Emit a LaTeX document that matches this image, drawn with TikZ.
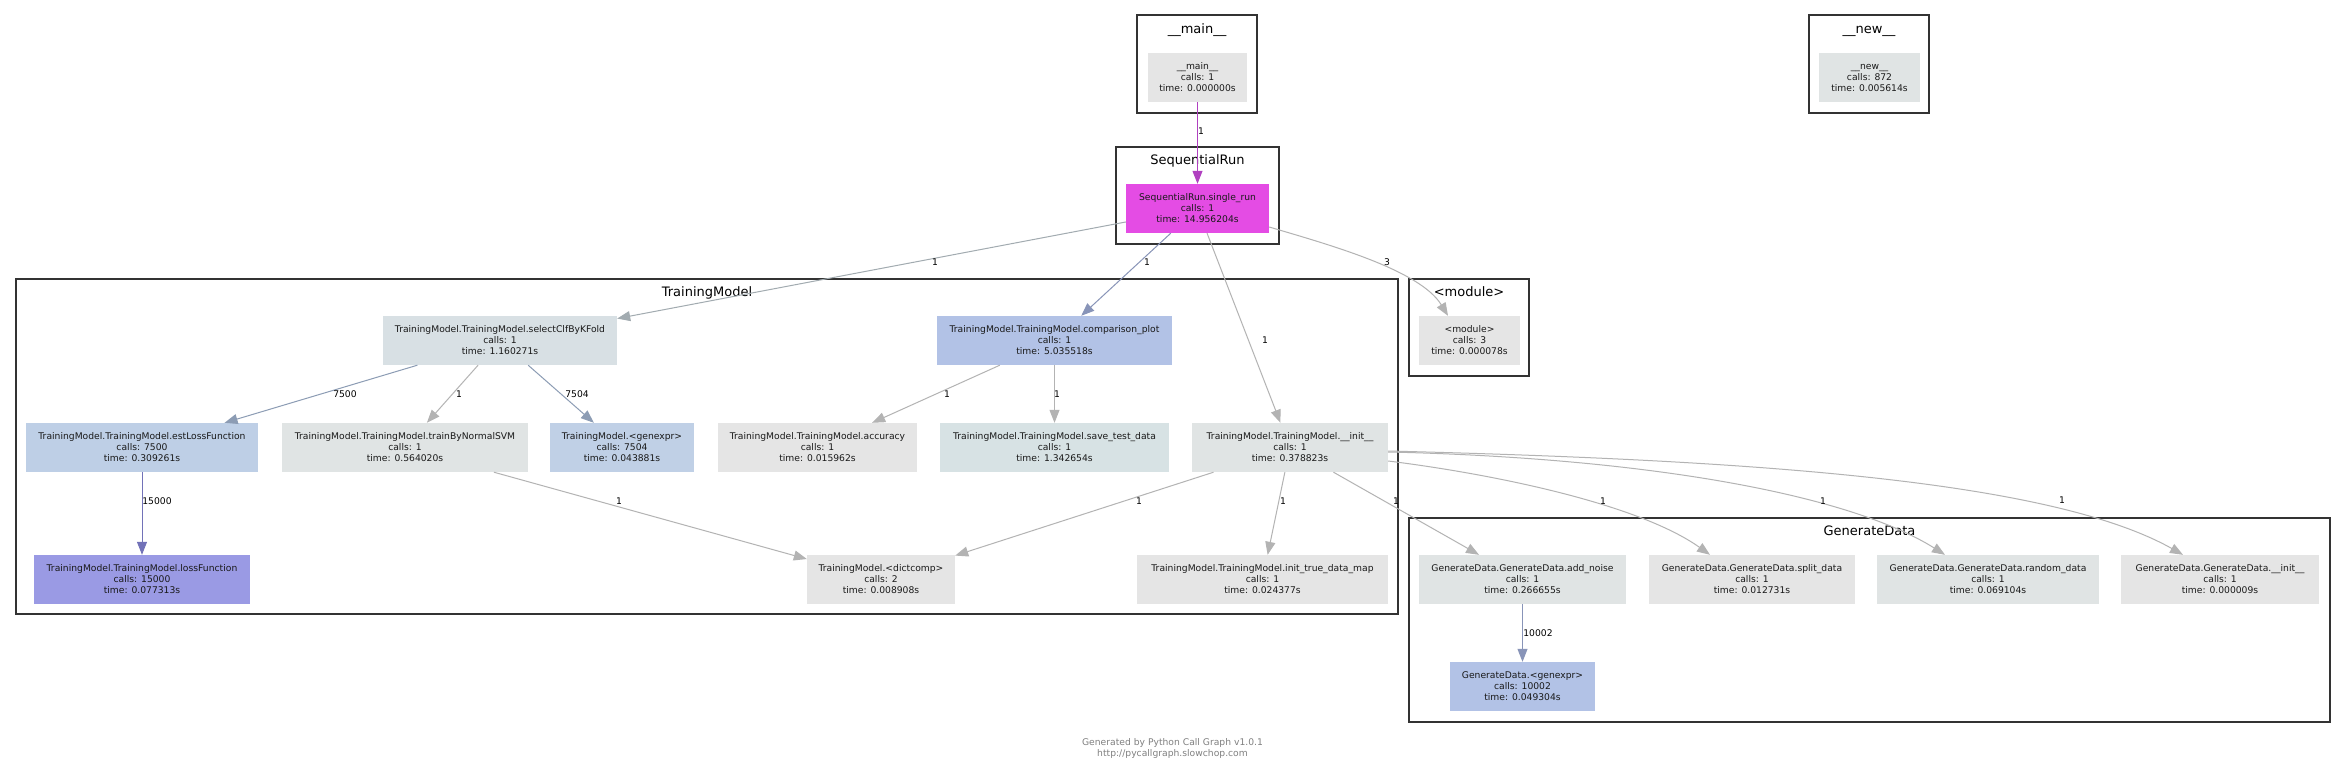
\documentclass[tikz,border=0pt]{standalone}
\usepackage{fontspec}
\setmainfont{DejaVu Sans}
\usetikzlibrary{arrows.meta,calc}
\definecolor{cgray}{HTML}{B3B3B3}
\definecolor{cteal}{HTML}{A2ABB0}
\definecolor{csteel}{HTML}{8C9CB4}
\definecolor{cblue}{HTML}{8894B8}
\definecolor{cviolet}{HTML}{7272B8}
\definecolor{cpurple}{HTML}{B040C0}
\definecolor{fgray}{HTML}{E5E5E5}
\definecolor{fgrayc}{HTML}{E0E4E4}
\definecolor{fmag}{HTML}{E44CE4}
\definecolor{fsel}{HTML}{D8E0E4}
\definecolor{fcomp}{HTML}{B2C2E6}
\definecolor{fest}{HTML}{BECFE6}
\definecolor{fgen}{HTML}{C0D0E6}
\definecolor{fsave}{HTML}{D7E2E4}
\definecolor{floss}{HTML}{9A9AE4}
\definecolor{clusc}{HTML}{333333}
\newcommand\fnode[7]{\node[fn, fill=#6, minimum width={#4-#2}, minimum height={#5-#3}] (#1) at ({(#2+#4)/2},{(#3+#5)/2}) {#7};}
\begin{document}
\begin{tikzpicture}[x=1pt,y=-1pt,
  fn/.style={rectangle, inner sep=0pt, align=center, font=\fontsize{9.2}{11}\selectfont, text=black!90},
  clus/.style={draw=clusc, line width=2pt},
  ttl/.style={anchor=base, font=\fontsize{13}{15}\selectfont, inner sep=0pt},
  lbl/.style={font=\fontsize{9.2}{11}\selectfont, inner sep=0pt},
  conn/.style={line width=1pt, draw=#1, -{Triangle[length=13pt,width=10pt]}}
]
\useasboundingbox (0,0) rectangle (2345,771);
\fill[white] (0,0) rectangle (2345,771);
% clusters
\draw[clus] (1137,15) rectangle (1257,113);
\node[ttl] (tmain) at (1197,33) {\_\_main\_\_};
\draw[clus] (1809,15) rectangle (1929,113);
\node[ttl] (tnew) at (1869,33) {\_\_new\_\_};
\draw[clus] (1116,147) rectangle (1279,244);
\node[ttl] (tsr) at (1197.5,164.5) {SequentialRun};
\draw[clus] (16,279) rectangle (1398,614);
\node[ttl] (ttm) at (707,296.5) {TrainingModel};
\draw[clus] (1409,279) rectangle (1529,376);
\node[ttl] (tmod) at (1469,296.5) {<module>};
\draw[clus] (1409,518) rectangle (2330,722);
\node[ttl] (tgd) at (1869.5,535.5) {GenerateData};
% nodes
\fnode{main}{1148}{53}{1247}{102}{fgray}{\_\_main\_\_\\calls: 1\\time: 0.000000s}
\fnode{new}{1819}{53}{1920}{102}{fgrayc}{\_\_new\_\_\\calls: 872\\time: 0.005614s}
\fnode{SR}{1126}{184}{1269}{233}{fmag}{SequentialRun.single\_run\\calls: 1\\time: 14.956204s}
\fnode{module}{1419}{316}{1520}{365}{fgray}{<module>\\calls: 3\\time: 0.000078s}
\fnode{select}{383}{316}{617}{365}{fsel}{TrainingModel.TrainingModel.selectClfByKFold\\calls: 1\\time: 1.160271s}
\fnode{comp}{937}{316}{1172}{365}{fcomp}{TrainingModel.TrainingModel.comparison\_plot\\calls: 1\\time: 5.035518s}
\fnode{est}{26}{423}{258}{472}{fest}{TrainingModel.TrainingModel.estLossFunction\\calls: 7500\\time: 0.309261s}
\fnode{train}{282}{423}{528}{472}{fgrayc}{TrainingModel.TrainingModel.trainByNormalSVM\\calls: 1\\time: 0.564020s}
\fnode{gentm}{550}{423}{694}{472}{fgen}{TrainingModel.<genexpr>\\calls: 7504\\time: 0.043881s}
\fnode{acc}{718}{423}{917}{472}{fgray}{TrainingModel.TrainingModel.accuracy\\calls: 1\\time: 0.015962s}
\fnode{save}{940}{423}{1169}{472}{fsave}{TrainingModel.TrainingModel.save\_test\_data\\calls: 1\\time: 1.342654s}
\fnode{initTM}{1192}{423}{1388}{472}{fgrayc}{TrainingModel.TrainingModel.\_\_init\_\_\\calls: 1\\time: 0.378823s}
\fnode{loss}{34}{555}{250}{604}{floss}{TrainingModel.TrainingModel.lossFunction\\calls: 15000\\time: 0.077313s}
\fnode{dict}{807}{555}{955}{604}{fgray}{TrainingModel.<dictcomp>\\calls: 2\\time: 0.008908s}
\fnode{itdm}{1137}{555}{1388}{604}{fgray}{TrainingModel.TrainingModel.init\_true\_data\_map\\calls: 1\\time: 0.024377s}
\fnode{noise}{1419}{555}{1626}{604}{fgrayc}{GenerateData.GenerateData.add\_noise\\calls: 1\\time: 0.266655s}
\fnode{split}{1649}{555}{1855}{604}{fgray}{GenerateData.GenerateData.split\_data\\calls: 1\\time: 0.012731s}
\fnode{random}{1877}{555}{2099}{604}{fgrayc}{GenerateData.GenerateData.random\_data\\calls: 1\\time: 0.069104s}
\fnode{initGD}{2121}{555}{2319}{604}{fgray}{GenerateData.GenerateData.\_\_init\_\_\\calls: 1\\time: 0.000009s}
\fnode{gengd}{1450}{662}{1595}{711}{fcomp}{GenerateData.<genexpr>\\calls: 10002\\time: 0.049304s}
% edges
\draw[conn=cpurple] (main) -- (SR);
\draw[conn=cteal] (SR) -- (select);
\draw[conn=cblue] (SR) -- (comp);
\draw[conn=cgray] (SR) -- (initTM);
\draw[conn=cgray] ($(SR.east)+(0,18.5)$) .. controls (1330,245) and (1420,270) .. ($(module.north)+(-21.5,0)$);
\draw[conn=csteel] (select) -- (est);
\draw[conn=cgray] (select) -- (train);
\draw[conn=csteel] (select) -- (gentm);
\draw[conn=cviolet] (est) -- (loss);
\draw[conn=cgray] (train) -- (dict);
\draw[conn=cgray] (comp) -- (acc);
\draw[conn=cgray] (comp) -- (save);
\draw[conn=cgray] (initTM) -- (dict);
\draw[conn=cgray] (initTM) -- (itdm);
\draw[conn=cgray] (initTM) -- (noise);
\draw[conn=cgray] ($(initTM.east)+(0,13.5)$) .. controls (1500,475) and (1640,505) .. ($(split.north)+(-42,0)$);
\draw[conn=cgray] ($(initTM.east)+(0,4.5)$) .. controls (1650,458) and (1850,495) .. ($(random.north)+(-43,0)$);
\draw[conn=cgray] ($(initTM.east)+(0,3.5)$) .. controls (1750,460) and (2050,480) .. ($(initGD.north)+(-37,0)$);
\draw[conn=cblue] (noise) -- (gengd);
% edge labels
\node[lbl] (l1) at (1201,131) {1};
\node[lbl] (l2) at (935,262) {1};
\node[lbl] (l3) at (1147,262) {1};
\node[lbl] (l4) at (1387,262) {3};
\node[lbl] (l5) at (1265,340) {1};
\node[lbl] (l6) at (345,394) {7500};
\node[lbl] (l7) at (459,394) {1};
\node[lbl] (l8) at (577,394) {7504};
\node[lbl] (l9) at (947,394) {1};
\node[lbl] (l10) at (1057,394) {1};
\node[lbl] (l11) at (157,501) {15000};
\node[lbl] (l12) at (619,501) {1};
\node[lbl] (l13) at (1139,501) {1};
\node[lbl] (l14) at (1283,501) {1};
\node[lbl] (l15) at (1396,501) {1};
\node[lbl] (l16) at (1603,501) {1};
\node[lbl] (l17) at (1823,501) {1};
\node[lbl] (l18) at (2062,500) {1};
\node[lbl] (l19) at (1538,633) {10002};
% footer
\node[fn, text=black!50] (foot) at (1172.5,748.5) {Generated by Python Call Graph v1.0.1\\http://pycallgraph.slowchop.com};
\end{tikzpicture}
\end{document}
